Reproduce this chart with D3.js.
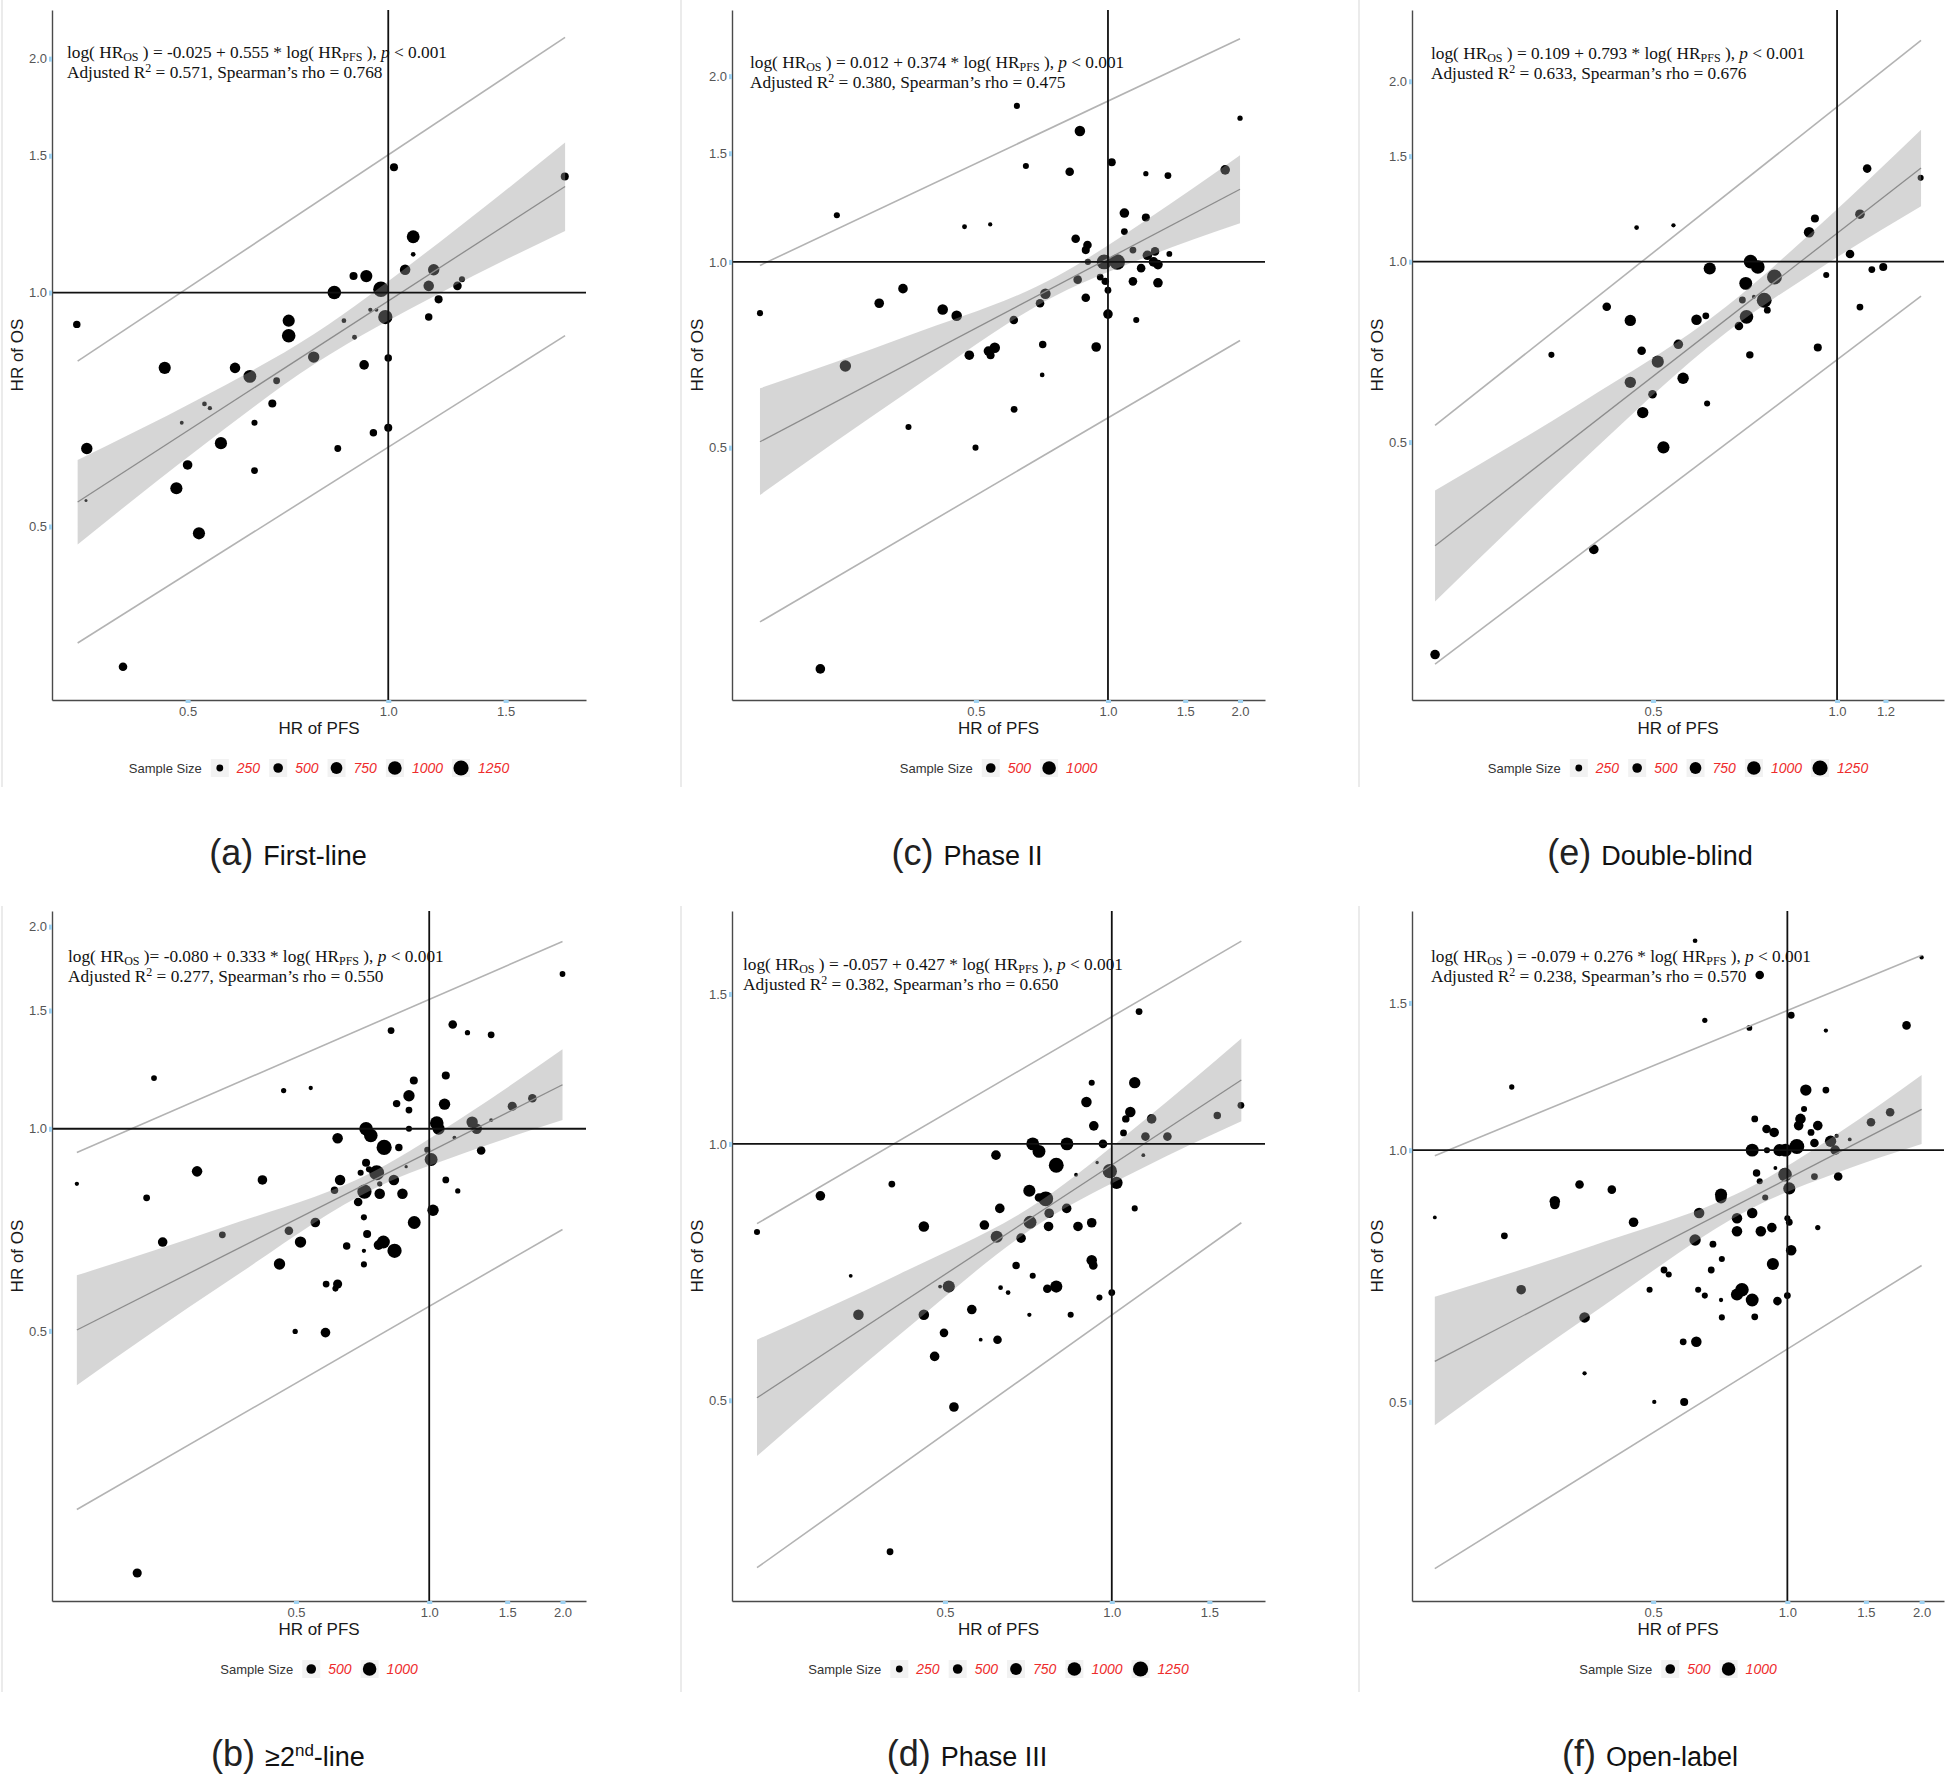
<!DOCTYPE html>
<html>
<head>
<meta charset="utf-8">
<script src="https://cdn.jsdelivr.net/npm/d3@7"></script>
<style>
  body { margin: 0; background: #fff; }
  svg { display: block; }
</style>
</head>
<body>
<script>
// ---------- data: [HR of PFS, HR of OS, sample size] ----------
const firstLinePoints = [
  [0.341,0.91,300],[1.02,1.45,350],[1.84,1.41,350],[1.09,1.18,900],[1.09,1.12,120],
  [1.06,1.07,600],[1.17,1.07,700],[0.887,1.05,350],[0.927,1.05,800],[0.83,1.0,1000],
  [0.975,1.01,1300],[1.15,1.02,600],[1.27,1.02,400],[1.29,1.04,200],[1.19,0.98,350],
  [1.15,0.93,300],[0.99,0.93,1100],[0.94,0.95,100],[0.96,0.95,80],[0.858,0.92,120],
  [0.89,0.876,130],[0.709,0.92,800],[0.709,0.88,1000],[0.773,0.826,700],[0.92,0.807,500],
  [1.0,0.824,300],[0.462,0.80,800],[0.589,0.80,600],[0.62,0.78,900],[0.68,0.77,250],
  [0.53,0.719,120],[0.54,0.71,100],[0.67,0.72,350],[0.49,0.68,80],[0.63,0.68,200],
  [0.353,0.63,700],[0.561,0.64,800],[0.50,0.60,500],[0.481,0.56,800],[0.352,0.54,50],
  [0.63,0.59,250],[0.52,0.49,800],[0.84,0.63,250],[0.95,0.66,300],[1.0,0.67,350],
  [0.40,0.33,400]
];
const secondLinePoints = [
  [0.16,0.828,100],[0.239,1.19,180],[0.469,1.14,150],[0.54,1.15,100],[0.82,1.40,250],
  [1.13,1.43,400],[1.22,1.39,150],[1.38,1.38,250],[2.0,1.70,180],[1.09,1.2,350],
  [0.923,1.18,350],[0.90,1.12,700],[0.844,1.09,300],[0.90,1.066,250],[1.083,1.088,700],
  [1.71,1.11,400],[1.54,1.08,450],[1.38,1.03,80],[1.25,1.023,700],[1.28,1.0,600],
  [1.04,1.02,1000],[1.05,1.0,800],[0.90,1.0,200],[0.72,1.0,1000],[0.738,0.977,1000],
  [0.621,0.968,600],[0.791,0.938,1250],[0.854,0.938,300],[1.14,0.97,80],[1.31,0.928,400],
  [0.99,0.93,200],[1.01,0.90,900],[0.72,0.89,350],[0.731,0.87,200],[0.761,0.86,1200],
  [0.70,0.86,200],[0.887,0.878,60],[0.299,0.864,600],[0.42,0.839,500],[0.629,0.839,600],
  [0.832,0.839,600],[1.09,0.839,250],[0.773,0.828,150],[1.16,0.808,150],[0.611,0.81,300],
  [0.714,0.806,1100],[0.773,0.80,600],[0.87,0.80,600],[0.23,0.789,250],[0.691,0.778,400],
  [1.02,0.756,700],[0.712,0.738,200],[0.925,0.725,900],[0.553,0.725,500],[0.724,0.697,350],
  [0.482,0.705,400],[0.341,0.695,250],[0.25,0.678,500],[0.512,0.678,700],[0.788,0.678,900],
  [0.768,0.671,500],[0.835,0.658,1100],[0.651,0.669,300],[0.712,0.658,100],[0.459,0.629,700],
  [0.712,0.628,200],[0.621,0.587,450],[0.585,0.587,250],[0.614,0.578,200],[0.498,0.499,150],
  [0.583,0.497,500],[0.219,0.218,450]
];
const phase2Points = [
  [0.161,0.826,200],[0.241,1.19,200],[0.471,1.14,130],[0.539,1.15,100],[0.62,1.79,200],
  [0.65,1.43,200],[0.863,1.63,600],[0.818,1.40,400],[1.02,1.45,350],[1.22,1.39,150],
  [1.37,1.38,250],[2.0,1.71,150],[1.85,1.41,500],[1.09,1.2,500],[1.22,1.18,350],
  [1.09,1.12,250],[0.844,1.09,400],[0.898,1.065,400],[0.89,1.045,350],[0.90,1.0,200],
  [0.98,1.0,1200],[1.05,1.0,1300],[1.14,1.045,250],[1.23,1.025,500],[1.28,1.04,400],
  [1.27,1.0,500],[1.30,0.99,500],[1.38,1.03,180],[1.19,0.977,400],[1.14,0.93,400],
  [1.30,0.925,500],[0.986,0.93,300],[1.0,0.90,250],[0.96,0.945,250],[0.853,0.936,400],
  [0.72,0.888,600],[0.70,0.857,400],[0.89,0.875,400],[1.0,0.823,500],[1.16,0.805,200],
  [0.341,0.905,500],[0.301,0.857,500],[0.42,0.837,600],[0.452,0.818,600],[0.61,0.805,400],
  [0.252,0.678,700],[0.483,0.706,500],[0.534,0.717,500],[0.552,0.726,600],[0.54,0.706,350],
  [0.71,0.735,300],[0.94,0.728,500],[0.708,0.656,120],[0.611,0.577,250],[0.351,0.54,200],
  [0.499,0.50,200],[0.221,0.219,500]
];
const phase3Points = [
  [0.229,0.788,200],[0.298,0.869,500],[0.401,0.897,250],[0.338,0.70,80],[0.458,0.80,600],
  [1.12,1.43,250],[0.92,1.18,200],[1.10,1.18,700],[0.90,1.12,600],[1.08,1.09,600],
  [1.06,1.07,300],[1.18,1.07,500],[0.928,1.05,500],[1.55,1.08,300],[1.71,1.11,250],
  [1.05,1.03,250],[1.15,1.02,400],[1.26,1.02,400],[0.964,1.0,400],[0.83,1.0,900],
  [0.72,1.0,900],[0.739,0.98,900],[0.618,0.97,500],[0.794,0.944,1200],[1.14,0.97,80],
  [0.941,0.951,60],[0.862,0.92,80],[0.992,0.929,1100],[1.02,0.90,800],[0.71,0.881,800],
  [0.76,0.862,1200],[0.739,0.865,400],[0.829,0.84,500],[0.628,0.84,500],[0.771,0.829,500],
  [1.10,0.84,200],[0.589,0.803,500],[0.712,0.809,900],[0.769,0.80,500],[0.869,0.80,500],
  [0.92,0.808,500],[0.62,0.778,800],[0.686,0.775,500],[0.92,0.73,600],[0.926,0.72,400],
  [0.672,0.72,300],[0.72,0.70,200],[0.794,0.68,800],[0.765,0.676,400],[1.0,0.669,250],
  [0.95,0.66,200],[0.63,0.678,120],[0.65,0.669,120],[0.508,0.68,800],[0.49,0.68,80],
  [0.349,0.63,600],[0.458,0.63,600],[0.559,0.639,500],[0.71,0.63,100],[0.843,0.63,200],
  [0.498,0.60,400],[0.58,0.589,80],[0.622,0.589,400],[0.479,0.563,500],[0.519,0.491,500],
  [0.398,0.332,250]
];
const doubleBlindPoints = [
  [0.47,1.14,120],[0.54,1.15,100],[1.12,1.43,400],[1.37,1.38,200],[1.09,1.2,500],
  [0.92,1.18,350],[0.90,1.12,600],[1.05,1.03,400],[0.722,1.0,1000],[0.742,0.98,1000],
  [0.619,0.974,800],[1.14,0.97,250],[1.19,0.98,350],[0.96,0.95,200],[0.79,0.943,1200],
  [0.709,0.92,900],[0.70,0.863,250],[0.731,0.874,80],[0.76,0.862,1200],[0.769,0.83,250],
  [0.711,0.809,1000],[0.691,0.781,400],[0.42,0.841,400],[0.459,0.798,700],[0.589,0.80,600],
  [0.61,0.812,250],[1.09,0.84,250],[0.55,0.728,500],[0.479,0.71,400],[0.93,0.719,350],
  [0.72,0.699,300],[0.341,0.699,200],[0.509,0.681,800],[0.56,0.639,700],[0.459,0.629,700],
  [0.499,0.601,400],[0.613,0.58,200],[0.481,0.56,700],[0.52,0.49,800],[0.40,0.331,500],
  [0.22,0.221,500]
];
const openLabelPoints = [
  [0.162,0.831,80],[0.241,1.19,150],[0.621,1.78,120],[0.867,1.62,400],[2.0,1.70,100],
  [0.653,1.43,150],[0.822,1.40,180],[1.02,1.45,250],[1.22,1.39,100],[1.85,1.41,400],
  [1.10,1.18,700],[1.22,1.18,250],[1.09,1.12,200],[1.07,1.09,600],[1.06,1.07,500],
  [1.17,1.07,500],[1.13,1.05,250],[0.845,1.09,250],[0.898,1.06,400],[0.934,1.05,500],
  [0.834,1.0,900],[0.90,1.0,200],[0.96,1.0,800],[0.99,1.0,900],[1.05,1.01,1200],
  [1.15,1.02,400],[1.25,1.025,700],[1.29,1.04,100],[1.28,1.0,500],[1.38,1.03,80],
  [1.54,1.08,400],[1.70,1.11,400],[0.94,0.952,80],[0.853,0.939,300],[0.988,0.935,1000],
  [1.15,0.93,250],[1.30,0.93,400],[0.867,0.918,200],[1.01,0.90,800],[0.342,0.91,400],
  [0.404,0.897,400],[0.301,0.869,600],[0.301,0.861,500],[0.71,0.885,800],[0.71,0.877,700],
  [0.892,0.878,200],[0.634,0.841,600],[0.834,0.841,600],[0.771,0.829,600],[1.0,0.829,200],
  [1.01,0.82,250],[1.17,0.808,150],[0.452,0.82,500],[0.771,0.80,600],[0.872,0.80,600],
  [0.923,0.808,500],[0.232,0.79,250],[0.621,0.781,700],[0.681,0.772,250],[1.02,0.759,600],
  [0.713,0.741,200],[0.928,0.731,800],[0.529,0.719,250],[0.542,0.71,200],[0.675,0.719,250],
  [0.253,0.681,500],[0.491,0.681,200],[0.631,0.681,200],[0.653,0.67,200],[0.71,0.662,100],
  [0.771,0.672,800],[0.791,0.681,1000],[0.834,0.662,900],[0.95,0.66,400],[1.0,0.67,250],
  [0.351,0.631,600],[0.713,0.631,200],[0.845,0.632,250],[0.584,0.59,250],[0.625,0.59,600],
  [0.351,0.541,100],[0.503,0.50,100],[0.587,0.50,350]
];

// regression: [intercept, slope, adjusted R2, Spearman rho]
const firstLineStats   = [-0.025, 0.555, 0.571, 0.768];
const secondLineStats  = [-0.080, 0.333, 0.277, 0.550];
const phase2Stats      = [0.012, 0.374, 0.380, 0.475];
const phase3Stats      = [-0.057, 0.427, 0.382, 0.650];
const doubleBlindStats = [0.109, 0.793, 0.633, 0.676];
const openLabelStats   = [-0.079, 0.276, 0.238, 0.570];

// confidence band (HR of PFS, lower HR of OS, upper HR of OS)
const firstLineBandX  = [0.342, 0.515, 0.775, 1.195, 1.842];
const firstLineBandLo = [0.474, 0.626, 0.809, 0.998, 1.20];
const firstLineBandHi = [0.609, 0.726, 0.885, 1.162, 1.56];
const secondLineBandX  = [0.160, 0.346, 0.752, 1.228, 2.0];
const secondLineBandLo = [0.415, 0.589, 0.815, 0.925, 1.03];
const secondLineBandHi = [0.605, 0.715, 0.865, 1.055, 1.313];
const phase2BandX  = [0.161, 0.350, 0.763, 1.235, 2.0];
const phase2BandLo = [0.419, 0.616, 0.883, 1.021, 1.155];
const phase2BandHi = [0.624, 0.759, 0.947, 1.175, 1.489];
const phase3BandX  = [0.229, 0.413, 0.745, 1.13, 1.713];
const phase3BandLo = [0.43, 0.596, 0.808, 0.935, 1.063];
const phase3BandHi = [0.589, 0.703, 0.858, 1.059, 1.33];
const doubleBlindBandX  = [0.220, 0.380, 0.658, 0.949, 1.372];
const doubleBlindBandLo = [0.271, 0.462, 0.761, 0.983, 1.237];
const doubleBlindBandHi = [0.415, 0.580, 0.841, 1.165, 1.66];
const openLabelBandX  = [0.162, 0.37, 0.845, 1.30, 2.0];
const openLabelBandLo = [0.469, 0.641, 0.856, 0.941, 1.017];
const openLabelBandHi = [0.668, 0.77, 0.909, 1.048, 1.23];

// outer (prediction) lines at both ends: [x, lower, upper]
const firstLinePI   = [[0.342, 0.354, 0.816], [1.842, 0.88, 2.13]];
const secondLinePI  = [[0.160, 0.271, 0.922], [2.0, 0.708, 1.90]];
const phase2PI      = [[0.161, 0.261, 0.987], [2.0, 0.746, 2.30]];
const phase3PI      = [[0.229, 0.318, 0.806], [1.713, 0.808, 1.73]];
const doubleBlindPI = [[0.220, 0.213, 0.533], [1.372, 0.876, 2.34]];
const openLabelPI   = [[0.162, 0.316, 0.985], [2.0, 0.728, 1.71]];

// axis ranges and ticks
const firstLineXDomain = [0.313, 1.98],  firstLineYDomain = [0.299, 2.31];
const secondLineXDomain = [0.1406, 2.26], secondLineYDomain = [0.198, 2.11];
const phase2XDomain = [0.139, 2.28],     phase2YDomain = [0.195, 2.56];
const phase3XDomain = [0.2064, 1.89],    phase3YDomain = [0.2906, 1.877];
const doubleBlindXDomain = [0.2017, 1.496], doubleBlindYDomain = [0.1856, 2.63];
const openLabelXDomain = [0.144, 2.245], openLabelYDomain = [0.289, 1.932];

const legendFive = [250, 500, 750, 1000, 1250];
const legendTwo = [500, 1000];

// ---------- layout ----------
const W = 1952, H = 1780;
const colLeft = [52, 732, 1412], colRight = [586, 1265, 1944];
const rowTop = [10, 911], rowBottom = [700, 1601];
const captionX = [288, 967, 1650];

const panels = [
  {letter: 'a', title: 'First-line', pts: firstLinePoints, stats: firstLineStats,
   bx: firstLineBandX, blo: firstLineBandLo, bhi: firstLineBandHi, pi: firstLinePI,
   xd: firstLineXDomain, yd: firstLineYDomain, xt: [0.5, 1, 1.5], yt: [0.5, 1, 1.5, 2],
   legend: legendFive, col: 0, row: 0, eq: [15, 48], sep: ' ) = '},
  {letter: 'b', title: '≥2nd-line', pts: secondLinePoints, stats: secondLineStats,
   bx: secondLineBandX, blo: secondLineBandLo, bhi: secondLineBandHi, pi: secondLinePI,
   xd: secondLineXDomain, yd: secondLineYDomain, xt: [0.5, 1, 1.5, 2], yt: [0.5, 1, 1.5, 2],
   legend: legendTwo, col: 0, row: 1, eq: [16, 51], sep: ' )= '},
  {letter: 'c', title: 'Phase II', pts: phase2Points, stats: phase2Stats,
   bx: phase2BandX, blo: phase2BandLo, bhi: phase2BandHi, pi: phase2PI,
   xd: phase2XDomain, yd: phase2YDomain, xt: [0.5, 1, 1.5, 2], yt: [0.5, 1, 1.5, 2],
   legend: legendTwo, col: 1, row: 0, eq: [18, 58], sep: ' ) = '},
  {letter: 'd', title: 'Phase III', pts: phase3Points, stats: phase3Stats,
   bx: phase3BandX, blo: phase3BandLo, bhi: phase3BandHi, pi: phase3PI,
   xd: phase3XDomain, yd: phase3YDomain, xt: [0.5, 1, 1.5], yt: [0.5, 1, 1.5],
   legend: legendFive, col: 1, row: 1, eq: [11, 59], sep: ' ) = '},
  {letter: 'e', title: 'Double-blind', pts: doubleBlindPoints, stats: doubleBlindStats,
   bx: doubleBlindBandX, blo: doubleBlindBandLo, bhi: doubleBlindBandHi, pi: doubleBlindPI,
   xd: doubleBlindXDomain, yd: doubleBlindYDomain, xt: [0.5, 1, 1.2], yt: [0.5, 1, 1.5, 2],
   legend: legendFive, col: 2, row: 0, eq: [19, 49], sep: ' ) = '},
  {letter: 'f', title: 'Open-label', pts: openLabelPoints, stats: openLabelStats,
   bx: openLabelBandX, blo: openLabelBandLo, bhi: openLabelBandHi, pi: openLabelPI,
   xd: openLabelXDomain, yd: openLabelYDomain, xt: [0.5, 1, 1.5, 2], yt: [0.5, 1, 1.5],
   legend: legendTwo, col: 2, row: 1, eq: [19, 51], sep: ' ) = '}
];

const sans = "'Liberation Sans', Arial, sans-serif";
const serif = "'Liberation Serif', 'Times New Roman', serif";
const rScale = d3.scaleSqrt().domain([0, 1250]).range([0, 7.6]);
const fmt = d3.format('.1f');

const svg = d3.select('body').append('svg')
    .attr('width', W).attr('height', H)
    .attr('viewBox', [0, 0, W, H]);

// faint frame edges of the original panel images
[[2, 0, 787], [681, 0, 787], [1359, 0, 787], [2, 906, 1692], [681, 906, 1692], [1359, 906, 1692]]
  .forEach(([fx, y0, y1]) => {
    svg.append('line').attr('x1', fx).attr('x2', fx).attr('y1', y0).attr('y2', y1)
        .attr('stroke', '#e4e4e4').attr('stroke-width', 1.5);
  });

function drawPanel(p) {
  const left = colLeft[p.col], right = colRight[p.col];
  const top = rowTop[p.row], bottom = rowBottom[p.row];
  const x = d3.scaleLog().domain(p.xd).range([left, right]);
  const y = d3.scaleLog().domain(p.yd).range([bottom, top]);
  const g = svg.append('g');

  // points
  g.append('g').selectAll('circle')
      .data(p.pts)
      .join('circle')
      .attr('cx', d => x(d[0]))
      .attr('cy', d => y(d[1]))
      .attr('r', d => rScale(d[2]))
      .attr('fill', '#000');

  // confidence band drawn over the points, like geom_smooth
  const band = p.bx.map((v, i) => ({x: v, lo: p.blo[i], hi: p.bhi[i]}));
  g.append('path')
      .datum(band)
      .attr('d', d3.area().curve(d3.curveMonotoneX)
          .x(d => x(d.x)).y0(d => y(d.lo)).y1(d => y(d.hi)))
      .attr('fill', '#999').attr('fill-opacity', 0.4);

  // fitted line
  const [a, b] = p.stats;
  const ends = d3.extent(p.bx);
  const fitY = v => Math.exp(a + b * Math.log(v));
  g.append('line')
      .attr('x1', x(ends[0])).attr('y1', y(fitY(ends[0])))
      .attr('x2', x(ends[1])).attr('y2', y(fitY(ends[1])))
      .attr('stroke', '#8c8c8c').attr('stroke-width', 1.3);

  // outer lines
  const line = d3.line().x(d => x(d[0])).y(d => y(d[1]));
  [1, 2].forEach(k => {
    g.append('path')
        .attr('d', line(p.pi.map(d => [d[0], d[k]])))
        .attr('fill', 'none').attr('stroke', '#b3b3b3').attr('stroke-width', 1.6);
  });

  // reference lines at HR = 1
  g.append('line').attr('x1', left).attr('x2', right).attr('y1', y(1)).attr('y2', y(1))
      .attr('stroke', '#111').attr('stroke-width', 1.8);
  g.append('line').attr('x1', x(1)).attr('x2', x(1)).attr('y1', top).attr('y2', bottom)
      .attr('stroke', '#111').attr('stroke-width', 1.8);

  // axes
  const xAxis = g.append('g').attr('transform', `translate(0,${bottom})`)
      .call(d3.axisBottom(x).tickValues(p.xt).tickFormat(fmt).tickSize(3).tickSizeOuter(0).tickPadding(4));
  const yAxis = g.append('g').attr('transform', `translate(${left},0)`)
      .call(d3.axisLeft(y).tickValues(p.yt).tickFormat(fmt).tickSize(3).tickSizeOuter(0).tickPadding(2));
  [xAxis, yAxis].forEach(ax => {
    ax.select('.domain').attr('stroke', '#4a4a4a').attr('stroke-width', 1.4);
    ax.selectAll('.tick line').attr('stroke', '#9fd2f2').attr('stroke-width', 5);
    ax.selectAll('.tick text').attr('fill', '#555').style('font', `13px ${sans}`);
  });

  // axis titles
  g.append('text')
      .attr('x', (left + right) / 2).attr('y', bottom + 34)
      .attr('text-anchor', 'middle')
      .style('font', `17px ${sans}`).attr('fill', '#1a1a1a')
      .text('HR of PFS');
  g.append('text')
      .attr('transform', `translate(${left - 29},${(top + bottom) / 2}) rotate(-90)`)
      .attr('text-anchor', 'middle')
      .style('font', `17px ${sans}`).attr('fill', '#1a1a1a')
      .text('HR of OS');

  // equation
  const ex = left + p.eq[0], ey = top + p.eq[1];
  const fix = v => v.toFixed(3);
  const t1 = g.append('text').attr('x', ex).attr('y', ey)
      .style('font', `17.3px ${serif}`).attr('fill', '#111');
  t1.append('tspan').text('log( HR');
  t1.append('tspan').attr('dy', 3).attr('font-size', 12).text('OS');
  t1.append('tspan').attr('dy', -3).text(`${p.sep}${fix(a)} + ${fix(b)} * log( HR`);
  t1.append('tspan').attr('dy', 3).attr('font-size', 12).text('PFS');
  t1.append('tspan').attr('dy', -3).text(' ), ');
  t1.append('tspan').attr('font-style', 'italic').text('p');
  t1.append('tspan').text(' < 0.001');
  const t2 = g.append('text').attr('x', ex).attr('y', ey + 20)
      .style('font', `17.3px ${serif}`).attr('fill', '#111');
  t2.append('tspan').text('Adjusted R');
  t2.append('tspan').attr('dy', -6).attr('font-size', 12).text('2');
  t2.append('tspan').attr('dy', 6).text(` = ${fix(p.stats[2])}, Spearman\u2019s rho = ${fix(p.stats[3])}`);

  // size legend
  const ly = bottom + 68;
  const lg = g.append('g');
  let lx = 0;
  const lt = lg.append('text').attr('x', lx).attr('y', ly).attr('dy', '0.35em')
      .style('font', `13px ${sans}`).attr('fill', '#333').text('Sample Size');
  lx += lt.node().getComputedTextLength() + 9;
  p.legend.forEach(v => {
    lg.append('rect').attr('x', lx).attr('y', ly - 9).attr('width', 18).attr('height', 18)
        .attr('fill', '#f2f2f2');
    lg.append('circle').attr('cx', lx + 9).attr('cy', ly).attr('r', rScale(v)).attr('fill', '#000');
    lx += 18 + 8;
    const vt = lg.append('text').attr('x', lx).attr('y', ly).attr('dy', '0.35em')
        .style('font', `italic 14px ${sans}`).attr('fill', '#ee2c2c').text(v);
    lx += vt.node().getComputedTextLength() + 9;
  });
  lg.attr('transform', `translate(${(left + right) / 2 - (lx - 9) / 2},0)`);

  // caption
  const cy = bottom + 165;
  const cap = g.append('text').attr('x', captionX[p.col]).attr('y', cy)
      .attr('text-anchor', 'middle').style('font', `27px ${sans}`).attr('fill', '#111');
  cap.append('tspan').attr('font-size', 36).attr('fill', '#222').text(`(${p.letter}) `);
  if (p.letter === 'b') {
    cap.append('tspan').text('≥2');
    cap.append('tspan').attr('dy', -10).attr('font-size', 17).text('nd');
    cap.append('tspan').attr('dy', 10).text('-line');
  } else {
    cap.append('tspan').text(p.title);
  }
}

panels.forEach(drawPanel);
</script>
</body>
</html>
